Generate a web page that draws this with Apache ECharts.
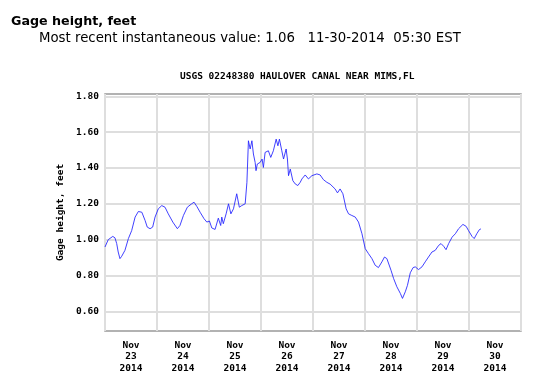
<!DOCTYPE html>
<html><head><meta charset="utf-8">
<script src="https://cdn.jsdelivr.net/npm/echarts@6/dist/echarts.min.js"></script>
<style>html,body{margin:0;padding:0;background:#fff}#c{width:550px;height:375px}</style>
</head><body><div id="c"></div>
<script>
// hours since Nov 23 2014 00:00 EST
const hours = [0,1.5,3.6,4.6,5.4,6.1,6.9,7.7,9.2,10.8,12.3,13.9,15.4,17.0,18.5,19.5,20.8,22.0,23.1,24.6,26.2,27.7,29.2,31.3,33.4,34.6,36.2,38.0,40.0,41.1,42.4,43.9,45.7,47.0,48.2,49.3,50.8,52.3,53.4,53.9,54.6,55.9,57.0,58.1,59.3,60.8,62.0,63.1,64.7,65.5,66.2,67.0,67.8,68.5,69.3,69.7,70.3,71.6,72.5,73.1,73.9,75.4,76.5,77.7,79.0,79.8,80.5,81.6,82.4,83.6,84.2,84.7,85.5,86.7,87.8,89.0,90.1,90.9,92.4,93.9,95.5,97.8,99.3,100.8,102.4,103.9,106.2,107.3,108.5,109.8,111.3,112.4,113.9,115.5,117.0,118.6,120.1,121.6,123.2,124.7,126.2,127.8,129.0,130.1,130.9,132.0,133.2,134.7,136.3,137.3,138.6,139.6,140.9,142.2,143.2,144.7,146.3,147.8,149.3,150.9,152.4,154.0,155.1,156.3,157.4,158.6,160.2,161.7,163.2,165.2,166.7,167.7,169.4,170.4,171.6,172.8,173.5];
const gageHeight = [0.959,1.00,1.018,1.01,0.978,0.931,0.894,0.907,0.94,1.006,1.05,1.126,1.157,1.153,1.107,1.07,1.061,1.07,1.126,1.172,1.19,1.181,1.144,1.098,1.061,1.079,1.135,1.181,1.20,1.209,1.185,1.153,1.117,1.098,1.104,1.065,1.057,1.12,1.079,1.126,1.089,1.144,1.20,1.144,1.172,1.256,1.181,1.19,1.20,1.32,1.552,1.506,1.552,1.478,1.431,1.385,1.422,1.431,1.45,1.403,1.487,1.496,1.459,1.496,1.561,1.524,1.561,1.496,1.45,1.506,1.45,1.357,1.394,1.329,1.311,1.302,1.32,1.339,1.361,1.339,1.357,1.367,1.361,1.335,1.32,1.31,1.283,1.261,1.283,1.256,1.172,1.144,1.135,1.126,1.098,1.033,0.95,0.922,0.894,0.857,0.844,0.876,0.903,0.894,0.898,0.829,0.783,0.737,0.70,0.672,0.709,0.745,0.815,0.844,0.848,0.833,0.848,0.876,0.903,0.931,0.94,0.968,0.978,0.963,0.944,0.978,1.014,1.033,1.061,1.085,1.074,1.052,1.018,1.006,1.033,1.056,1.06];
const yTicks = [0.60,0.80,1.00,1.20,1.40,1.60,1.80];
const dayLabelHours = [12,36,60,84,108,132,156,180];
const dayLabels = ['Nov\n23\n2014','Nov\n24\n2014','Nov\n25\n2014','Nov\n26\n2014','Nov\n27\n2014','Nov\n28\n2014','Nov\n29\n2014','Nov\n30\n2014'];

const chart = echarts.init(document.getElementById('c'), null, {renderer:'canvas'});
const mono = 'DejaVu Sans Mono';
chart.setOption({
  animation:false,
  backgroundColor:'#fff',
  title:[
    {text:'Gage height, feet', left:11, top:15, padding:0, textStyle:{fontFamily:'DejaVu Sans', fontWeight:'bold', fontSize:12.7, color:'#000'}},
    {text:'Most recent instantaneous value: 1.06   11-30-2014  05:30 EST', left:39, top:32, padding:0, textStyle:{fontFamily:'DejaVu Sans', fontWeight:'normal', fontSize:13.3, color:'#000'}},
    {text:'USGS 02248380 HAULOVER CANAL NEAR MIMS,FL', left:180, top:72, padding:0, textStyle:{fontFamily:mono, fontWeight:'bold', fontSize:9.5, color:'#000'}}
  ],
  grid:{left:105, right:29, top:94, bottom:44, show:true, borderColor:'#999', borderWidth:1.5},
  xAxis:{
    type:'value', min:0, max:192, interval:24,
    axisLine:{show:false}, axisTick:{show:false},
    splitLine:{show:true, lineStyle:{color:'#dedede', width:2}},
    axisLabel:{customValues:dayLabelHours, margin:9, fontFamily:mono, fontWeight:'bold', fontSize:9.5, color:'#000', lineHeight:11.3,
      formatter:function(v){const i=dayLabelHours.indexOf(v);return i>=0?dayLabels[i]:'';}}
  },
  yAxis:{
    type:'value', min:0.49, max:1.813,
    name:'Gage height, feet', nameLocation:'middle', nameGap:39, nameRotate:90,
    nameTextStyle:{fontFamily:mono, fontWeight:'bold', fontSize:9.5, color:'#000'},
    axisLine:{show:false},
    axisTick:{show:false, customValues:yTicks},
    splitLine:{show:true, lineStyle:{color:'#dedede', width:2}},
    axisLabel:{customValues:yTicks, margin:6, fontFamily:mono, fontWeight:'bold', fontSize:9.5, color:'#000',
      formatter:function(v){return v.toFixed(2);}}
  },
  series:[{
    type:'line', data:hours.map((h,i)=>[h,gageHeight[i]]),
    symbol:'none', smooth:false,
    lineStyle:{color:'#2020ff', width:1, opacity:0.85}
  }]
});
</script></body></html>
